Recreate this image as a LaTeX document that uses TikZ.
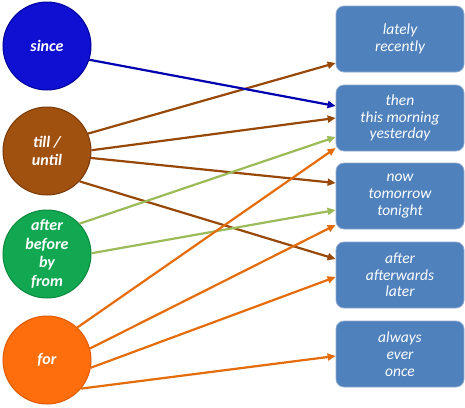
\documentclass[tikz,border=0pt]{standalone}
\usepackage{fontspec}
\setmainfont{Carlito}
\usetikzlibrary{arrows.meta}
\definecolor{SinceClr}{HTML}{1010D2}
\definecolor{SinceEdge}{HTML}{00009A}
\definecolor{TillClr}{HTML}{A0500F}
\definecolor{TillEdge}{HTML}{7A3A08}
\definecolor{AfterClr}{HTML}{12A852}
\definecolor{AfterEdge}{HTML}{0A8A3C}
\definecolor{ForClr}{HTML}{FF6E0C}
\definecolor{ForEdge}{HTML}{E05A00}
\definecolor{BoxClr}{HTML}{4F81BD}
\definecolor{BoxEdge}{HTML}{8FA9CF}
\definecolor{SinceLn}{HTML}{0000B0}
\definecolor{TillLn}{HTML}{974706}
\definecolor{AfterLn}{HTML}{9BBB59}
\definecolor{ForLn}{HTML}{E46C0A}

\begin{document}
\begin{tikzpicture}[x=1pt,y=-1pt,
  circ/.style={circle,minimum size=88pt,inner sep=0pt,line width=1pt,text=white,align=center,
    font=\fontsize{16}{18.5}\selectfont\bfseries\itshape},
  wordbox/.style={rectangle,rounded corners=8pt,minimum width=128pt,minimum height=66pt,
    fill=BoxClr,draw=BoxEdge,line width=.8pt,text=white,align=center,
    font=\fontsize{15.5}{16.7}\selectfont\itshape},
  lnk/.style={line width=2.2pt,-{Triangle[length=8pt,width=7pt]}}]
\useasboundingbox (0,0) rectangle (465,407);

% left circles
\node[circ,fill=SinceClr,draw=SinceEdge] (since) at (47,46) {since};
\node[circ,fill=TillClr,draw=TillEdge] (till) at (47,151) {till /\\until};
\node[circ,fill=AfterClr,draw=AfterEdge] (after) at (47,254) {after\\before\\by\\from};
\node[circ,fill=ForClr,draw=ForEdge] (for) at (47,360) {for};

% right boxes
\node[wordbox] (b1) at (400,39) {lately\\recently};
\node[wordbox] (b2) at (400,118) {then\\this morning\\yesterday};
\node[wordbox] (b3) at (400,196) {now\\tomorrow\\tonight};
\node[wordbox] (b4) at (400,275) {after\\afterwards\\later};
\node[wordbox] (b5) at (400,354) {always\\ever\\once};

% connectors
\draw[lnk,TillLn] (till.23) -- ([yshift=-24pt]b1.west);
\draw[lnk,SinceLn] (since.-18) -- ([yshift=12pt]b2.west);
\draw[lnk,TillLn] (till.1) -- (b2.west);
\draw[lnk,TillLn] (till.-9) -- ([yshift=13pt]b3.west);
\draw[lnk,TillLn] (till.-43) -- ([yshift=16pt]b4.west);
\draw[lnk,AfterLn] (after.43) -- ([yshift=-19pt]b2.west);
\draw[lnk,AfterLn] (after.1) -- ([yshift=-14pt]b3.west);
\draw[lnk,ForLn] (for.47) -- ([yshift=-30pt]b2.west);
\draw[lnk,ForLn] (for.15) -- ([yshift=-29pt]b3.west);
\draw[lnk,ForLn] (for.-10) -- ([yshift=-2pt]b4.west);
\draw[lnk,ForLn] (for.-40) -- ([yshift=-2pt]b5.west);
\end{tikzpicture}
\end{document}
